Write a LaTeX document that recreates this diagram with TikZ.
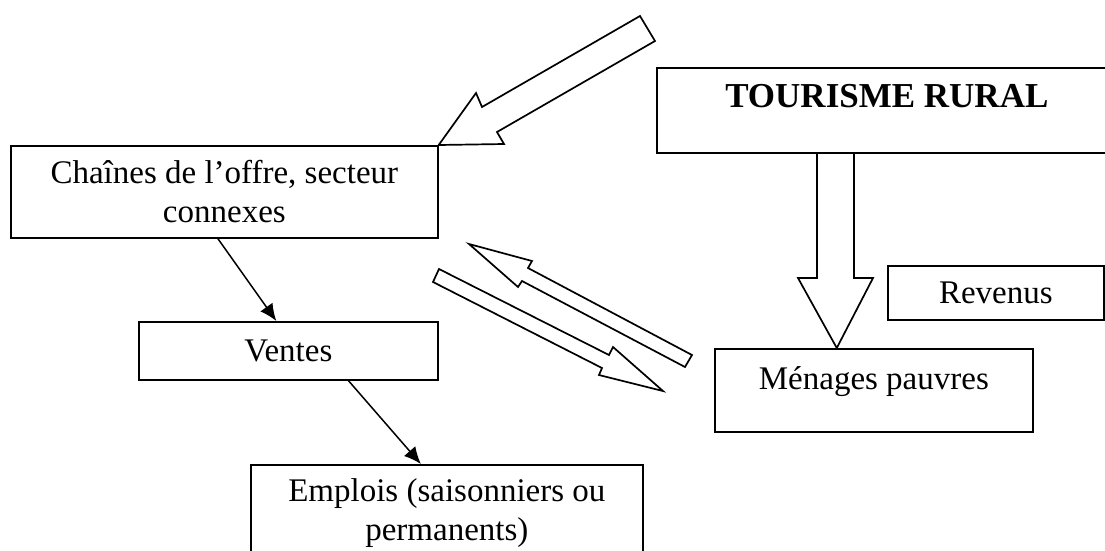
\documentclass[tikz,border=0pt]{standalone}
\usepackage{fontspec}
\setmainfont{Liberation Serif}
\usepackage{tikz}
\usetikzlibrary{arrows.meta,calc}

\begin{document}
\begin{tikzpicture}[
    x=1pt, y=-1pt,
    >={Latex[length=17pt,width=15pt]},
    line width=1.5pt,
    box/.style={draw, line width=1.7pt, inner sep=0pt, font=\fontsize{33}{39}\selectfont},
    fatarrow/.style={draw, line width=1.7pt, line join=miter}
  ]
    \useasboundingbox (0,0) rectangle (1105,550);

    \node[box, align=center, anchor=north west, minimum width=427pt, minimum height=92pt] (chaines) at (10,145) {Chaînes de l’offre, secteur\\connexes};
    \node[box, anchor=north west, minimum width=299pt, minimum height=58pt] (ventes) at (138,321) {Ventes};
    \node[box, align=center, anchor=north west, minimum width=392pt, minimum height=96pt] (emplois) at (250,464) {Emplois (saisonniers ou\\permanents)};
    \node[box, anchor=north west, minimum width=460pt, text height=40pt, text depth=45pt, font={\fontsize{35}{39}\selectfont\bfseries}] (tourisme) at (656,67) {TOURISME RURAL};
    \node[box, anchor=north west, minimum width=216pt, minimum height=54pt] (revenus) at (887,265) {Revenus};
    \node[box, anchor=north west, minimum width=318pt, text height=41pt, text depth=42pt] (menages) at (714,348) {Ménages pauvres};

    \draw[->] ($(chaines.south west)!0.485!(chaines.south east)$) -- ($(ventes.north west)!0.46!(ventes.north east)$);
    \draw[->] ($(ventes.south west)!0.7!(ventes.south east)$) -- ($(emplois.north west)!0.434!(emplois.north east)$);

    % big arrows
    \draw[fatarrow] (640,16) -- (482,107) -- (476,93) -- (chaines.north east) -- (504,144) -- (497,132) -- (655,41) -- cycle;
    \coordinate (dtip) at ($(menages.north west)!0.384!(menages.north east)$);
    \draw[fatarrow] (817,152) -- (817,278) -- (798,278) -- (dtip) -- (873,278) -- (854,278) -- (854,152);
    \draw[fatarrow] (469,244) -- (532,261) -- (528,268) -- (692,355) -- (685,367) -- (522,281) -- (518,287) -- cycle;
    \draw[fatarrow] (439,269) -- (609,355) -- (613,347) -- (663,391) -- (599,375) -- (602,368) -- (433,282) -- cycle;
  \end{tikzpicture}
\end{document}
